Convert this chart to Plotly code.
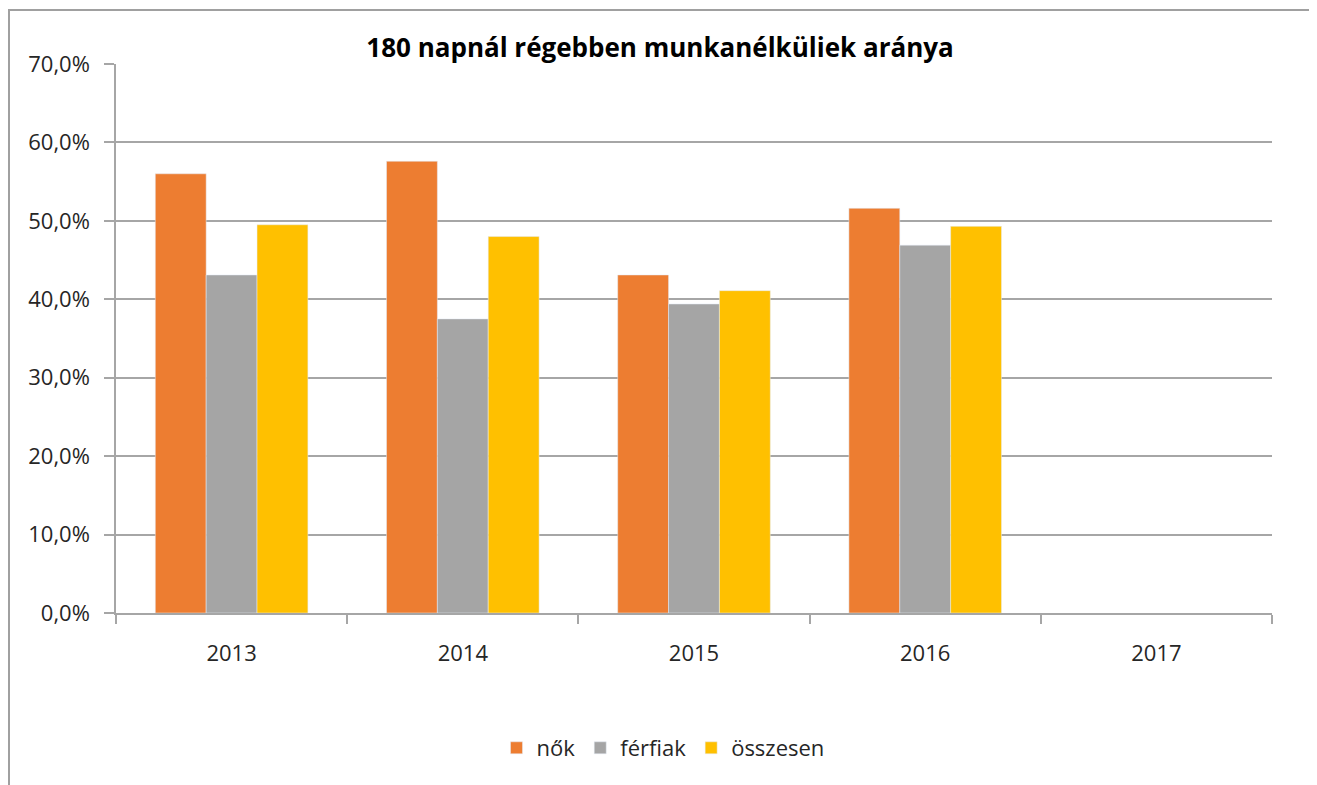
import plotly.graph_objects as go

years = ["2013", "2014", "2015", "2016", "2017"]
nok = [0.560, 0.576, 0.431, 0.516, None]
ferfiak = [0.431, 0.375, 0.394, 0.469, None]
osszesen = [0.495, 0.480, 0.411, 0.493, None]

title = "180 napnál régebben munkanélküliek aránya"
font_family = "Open Sans"
grid_col = "#a6a6a6"

# page body has an 8px margin; compensate so the picture lines up
OFF = 8
W, H = 1317, 785
L, R, T, B = 116 - OFF, 1272 - OFF, 64 - OFF, 613 - OFF
pw, ph = R - L, B - T

fig = go.Figure()
fig.add_trace(go.Bar(name="nők", x=years, y=nok, marker_color="#ED7D31"))
fig.add_trace(go.Bar(name="férfiak", x=years, y=ferfiak, marker_color="#A5A5A5"))
fig.add_trace(go.Bar(name="összesen", x=years, y=osszesen, marker_color="#FFC000"))

fig.update_layout(
    width=W, height=H,
    margin=dict(l=L, r=W - R, t=T, b=H - B),
    paper_bgcolor="white", plot_bgcolor="white",
    separators=", ",
    barmode="group", bargap=0.34, bargroupgap=0,
    font=dict(family=font_family, size=22, color="#262626"),
    title=dict(text="<b>" + title + "</b>", x=(660 - 116) / 1156, xref="paper", xanchor="center",
               y=1 - (48 - OFF) / H, yref="container", yanchor="middle",
               font=dict(family=font_family, size=26, color="#000000")),
    legend=dict(orientation="h", x=(663 - 116) / 1156, xanchor="center",
                y=(613 - 748) / 549, yanchor="middle",
                font=dict(size=22), itemwidth=30, traceorder="normal"),
    showlegend=True,
)

fig.update_xaxes(
    type="category", showline=True, linecolor=grid_col, linewidth=1.5,
    ticks="outside", tickson="boundaries", ticklen=9, tickcolor=grid_col, tickwidth=1.5,
    showgrid=False, tickfont=dict(size=22), ticklabelstandoff=20,
)
fig.update_yaxes(
    range=[0, 0.70], dtick=0.10, tickformat=".1%",
    showline=True, linecolor=grid_col, linewidth=1.5,
    ticks="outside", ticklen=10, tickcolor=grid_col, tickwidth=1.5,
    showgrid=True, gridcolor=grid_col, gridwidth=1.5, zeroline=False,
    tickfont=dict(size=22), ticklabelstandoff=10,
)

# outer chart border
fig.add_shape(type="rect", xref="paper", yref="paper",
              x0=(1 - L) / pw, x1=(1314 - OFF - L) / pw,
              y0=-0.5, y1=(B - (10 - OFF)) / ph,
              line=dict(color="#a0a0a0", width=2), layer="below")

fig.write_html("out.html")
